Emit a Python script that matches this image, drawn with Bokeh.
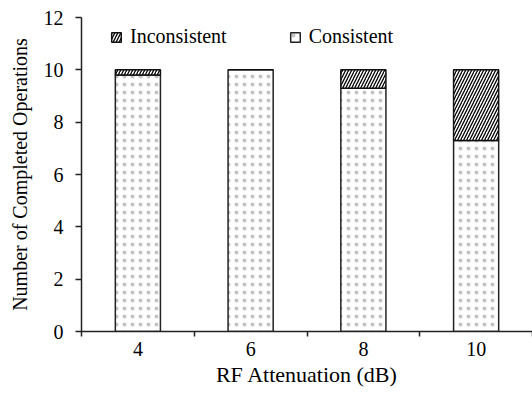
import numpy as np
from bokeh.plotting import figure
from bokeh.models import ColumnDataSource, FixedTicker, Range1d, Legend, LegendItem
from bokeh.embed import file_html
from bokeh.resources import INLINE

categories = ["4", "6", "8", "10"]
consistent = [9.8, 10.0, 9.3, 7.3]
inconsistent = [0.2, 0.0, 0.7, 2.7]
y_ticks = [0, 2, 4, 6, 8, 10, 12]

FONT = "Liberation Serif"

x = np.arange(len(categories)) + 0.5
cons = np.array(consistent, dtype=float)
inc = np.array(inconsistent, dtype=float)
src = ColumnDataSource(dict(x=x, cons=cons, top=cons + inc))

p = figure(width=532, height=394, output_backend="svg", toolbar_location=None,
           x_range=Range1d(0, len(categories)), y_range=Range1d(0, 12),
           min_border_left=81, min_border_right=0, min_border_top=17, min_border_bottom=63)
p.outline_line_color = None
p.xgrid.grid_line_color = None
p.ygrid.grid_line_color = None
p.background_fill_color = "white"

r_cons = p.vbar(x="x", width=0.4, bottom=0, top="cons", source=src,
                fill_color="white", line_color="#222222", line_width=1.5,
                hatch_pattern="dot", hatch_color="#c4c4c4", hatch_scale=8, hatch_weight=0.8)
r_inc = p.vbar(x="x", width=0.4, bottom="cons", top="top", source=src,
               fill_color="white", line_color="#111111", line_width=1.5,
               hatch_pattern="right_diagonal_line", hatch_color="black", hatch_scale=6, hatch_weight=1.3)

# x axis: labels at category centres, ticks at category boundaries
xa = p.xaxis[0]
xa.ticker = FixedTicker(ticks=[float(v) for v in x], minor_ticks=list(range(len(categories) + 1)))
xa.major_label_overrides = {float(v): c for v, c in zip(x, categories)}
xa.major_tick_out = 0
xa.major_tick_in = 0
xa.minor_tick_out = 5
xa.minor_tick_in = 0
xa.minor_tick_line_color = "#222222"
xa.minor_tick_line_width = 1.5
xa.axis_line_color = "#222222"
xa.axis_line_width = 1.5
xa.major_label_standoff = 5
xa.axis_label = "RF Attenuation (dB)"
xa.axis_label_standoff = 3

ya = p.yaxis[0]
ya.ticker = FixedTicker(ticks=y_ticks, minor_ticks=[])
ya.major_tick_out = 6
ya.major_tick_in = 0
ya.major_tick_line_color = "#222222"
ya.major_tick_line_width = 1.5
ya.axis_line_color = "#222222"
ya.axis_line_width = 1.5
ya.major_label_standoff = 12
ya.axis_label = "Number of Completed Operations"
ya.axis_label_standoff = 10

for ax in (xa, ya):
    ax.major_label_text_font = FONT
    ax.major_label_text_font_size = "20px"
    ax.major_label_text_color = "black"
    ax.axis_label_text_font = FONT
    ax.axis_label_text_font_style = "normal"
    ax.axis_label_text_color = "black"
xa.axis_label_text_font_size = "22px"
ya.axis_label_text_font_size = "20px"

legend = Legend(items=[LegendItem(label="Inconsistent", renderers=[r_inc]),
                       LegendItem(label="Consistent", renderers=[r_cons])],
                location=(29, 283), orientation="horizontal", spacing=62,
                padding=0, margin=0, border_line_color=None, background_fill_alpha=0,
                glyph_width=12, glyph_height=12, label_standoff=8,
                label_text_font=FONT, label_text_font_size="20px", label_text_color="black")
p.add_layout(legend)

open("out.html", "w").write(file_html(p, INLINE))
